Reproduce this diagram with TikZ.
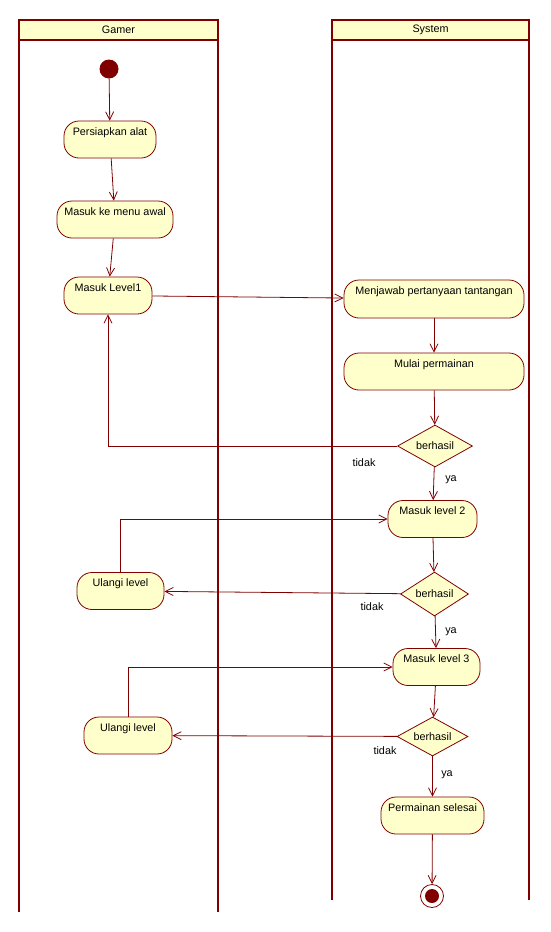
\documentclass[tikz,border=0pt]{standalone}
\usepackage{fontspec}
\setmainfont{Liberation Sans}
\usetikzlibrary{shapes.geometric,arrows.meta}
\definecolor{umlred}{HTML}{800000}
\definecolor{umlfill}{HTML}{FFFFCC}

\begin{document}
\begin{tikzpicture}[
        x=1pt, y=-1pt,
        font=\fontsize{10.8}{12}\selectfont, % Tahoma-like size
        lane/.style={draw=umlred, line width=1.6pt},
        lanehead/.style={draw=umlred, fill=umlfill, line width=1.6pt},
        activity/.style={draw=umlred, fill=umlfill, rounded corners=15pt, line width=0.8pt,
            minimum height=37pt, text height=8pt, text depth=17pt, inner ysep=6pt, inner xsep=0pt},
        decision/.style={diamond, aspect=1.75, draw=umlred, fill=umlfill, line width=0.8pt,
            minimum width=72pt, minimum height=43pt, inner sep=0pt},
        startdot/.style={circle, fill=umlred, minimum size=19pt, inner sep=0pt},
        enddot/.style={circle, draw=umlred, fill=white, line width=0.8pt, minimum size=23pt, inner sep=0pt,
            path picture={\fill[umlred] (path picture bounding box.center) circle (7pt);}},
        flow/.style={draw=umlred, line width=0.8pt, -{Straight Barb[length=8pt,width=8pt]}},
        guard/.style={inner sep=0pt}
    ]
    \useasboundingbox (0,0) rectangle (551,932);

    % swimlanes
    \draw[lanehead] (19,20) rectangle (218,40);
    \draw[lanehead] (332,20) rectangle (529,40);
    \draw[lane] (19,40) -- (19,912) (218,40) -- (218,912);
    \draw[lane] (332,40) -- (332,900) (529,40) -- (529,900);
    \node (gamer) at (118.5,30) {Gamer};
    \node (system) at (430.5,30) {System};

    % Gamer
    \node[startdot] (start) at (109,69) {};
    \node[activity, minimum width=92pt] (siap) at (110,139.5) {Persiapkan alat};
    \node[activity, minimum width=116pt] (menu) at (115,219.5) {Masuk ke menu awal};
    \node[activity, minimum width=88pt] (lv1) at (108,295.5) {Masuk Level1};
    \node[activity, minimum width=87pt] (ulang1) at (120.5,591) {Ulangi level};
    \node[activity, minimum width=88pt] (ulang2) at (128,735.5) {Ulangi level};

    % System
    \node[activity, minimum width=180pt, minimum height=38pt] (jawab) at (434,299) {Menjawab pertanyaan tantangan};
    \node[activity, minimum width=180pt] (mulai) at (434,371.5) {Mulai permainan};
    \node[decision, minimum width=75pt, minimum height=42pt] (cek1) at (435,446) {berhasil};
    \node[decision, minimum width=68pt, minimum height=44pt] (cek2) at (434.5,594) {berhasil};
    \node[activity, minimum width=89pt] (lv2) at (432.5,519) {Masuk level 2};
    \node[activity, minimum width=87pt] (lv3) at (436.5,667) {Masuk level 3};
    \node[decision, minimum width=71pt, minimum height=39pt] (cek3) at (432.5,736.5) {berhasil};
    \node[activity, minimum width=103pt] (selesai) at (432.5,815.5) {Permainan selesai};
    \node[enddot] (stop) at (432,896) {};

    % guards
    \node[guard] (tidak1) at (364,463) {tidak};
    \node[guard] (ya1) at (451,480) {ya};
    \node[guard] (tidak2) at (372,607) {tidak};
    \node[guard] (ya2) at (451,632) {ya};
    \node[guard] (tidak3) at (385,751) {tidak};
    \node[guard] (ya3) at (447,775) {ya};

    % transitions
    \draw[flow] (start) -- (siap);
    \draw[flow] (siap) -- (menu);
    \draw[flow] (menu) -- (lv1);
    \draw[flow] (lv1) -- (jawab);
    \draw[flow] (jawab) -- (mulai);
    \draw[flow] (mulai) -- (cek1);
    \draw[flow] (cek1) -| (lv1);
    \draw[flow] (cek1) -- (lv2);
    \draw[flow] (lv2) -- (cek2);
    \draw[flow] (cek2) -- (ulang1);
    \draw[flow] (ulang1) |- (lv2);
    \draw[flow] (cek2) -- (lv3);
    \draw[flow] (lv3) -- (cek3);
    \draw[flow] (cek3) -- (ulang2);
    \draw[flow] (ulang2) |- (lv3);
    \draw[flow] (cek3) -- (selesai);
    \draw[flow] (selesai) -- (stop);
\end{tikzpicture}
\end{document}
